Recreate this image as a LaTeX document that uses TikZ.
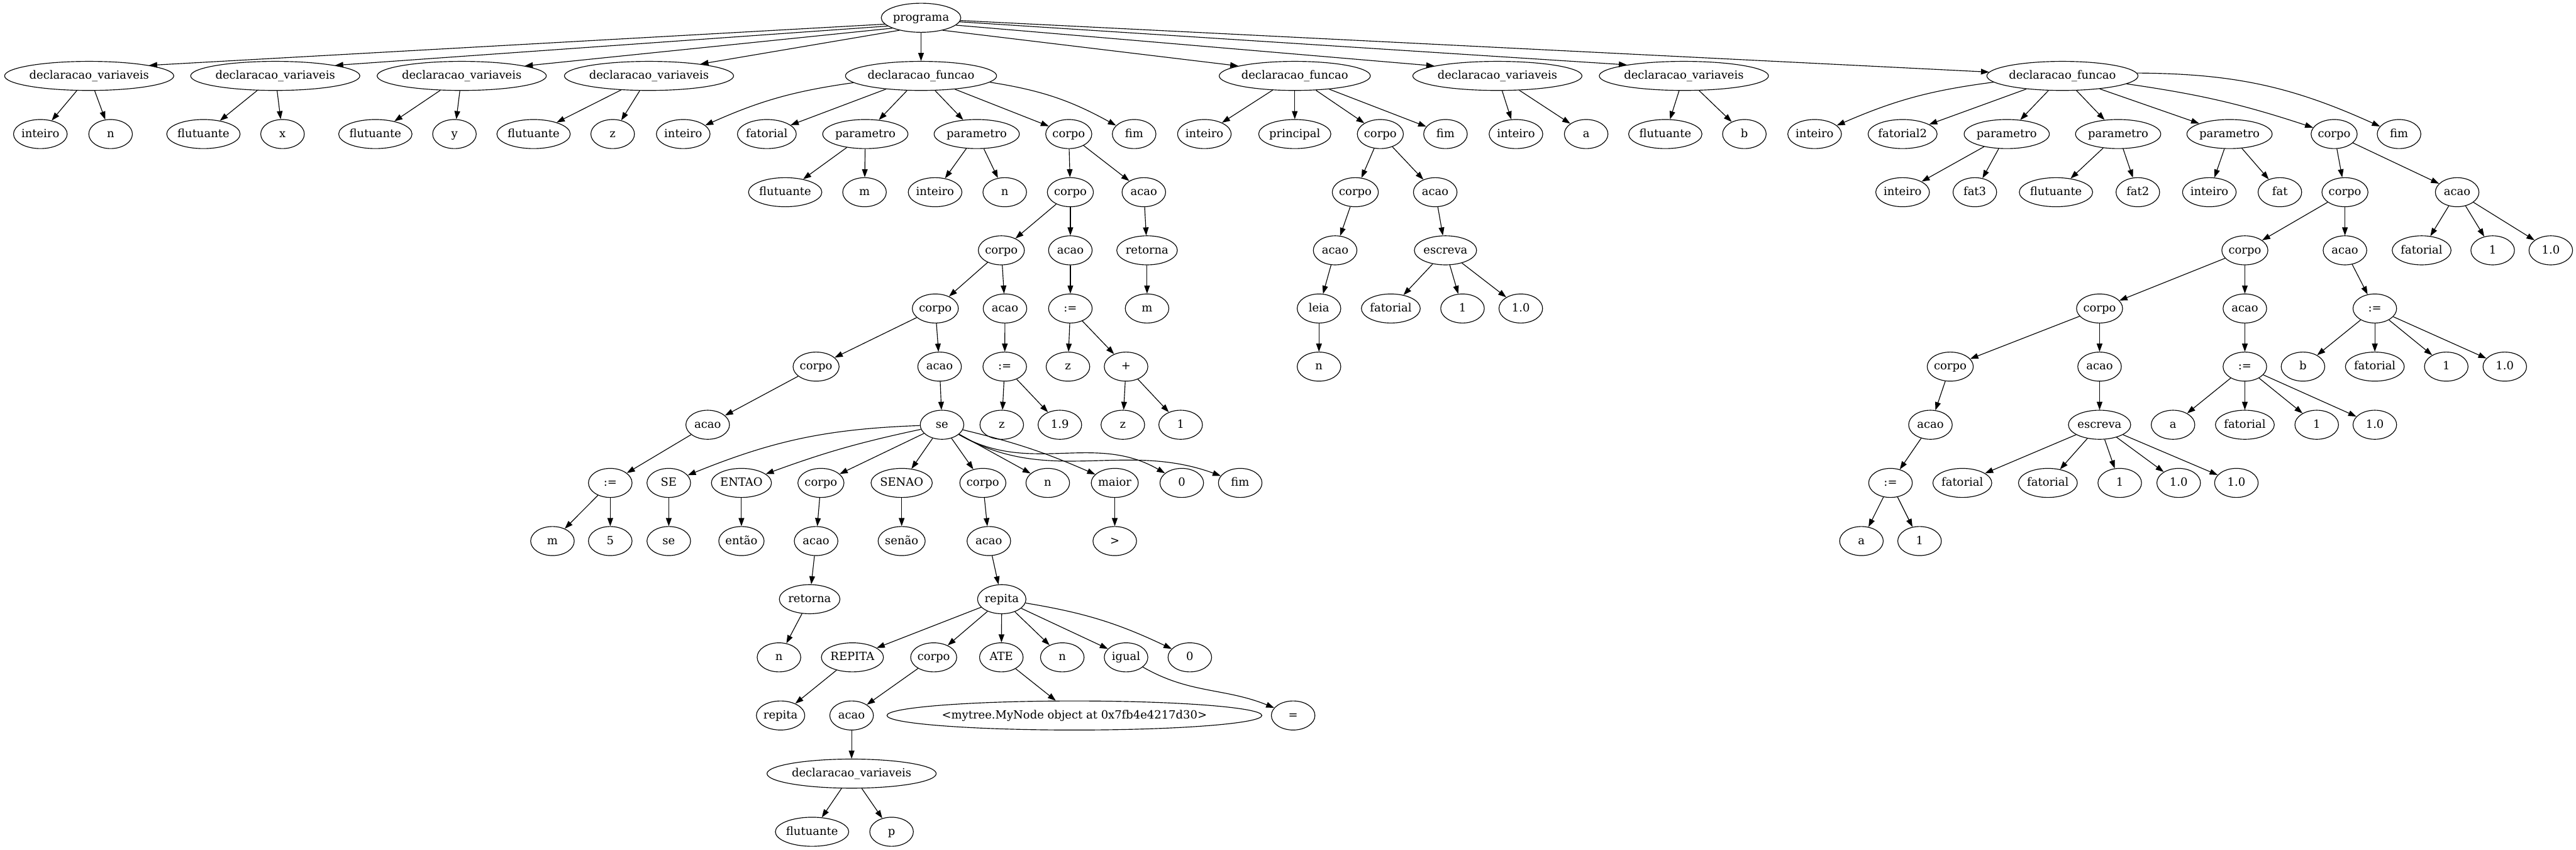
\documentclass[tikz,border=0pt]{standalone}
\usepackage{fontspec}
\setmainfont{DejaVu Serif}
\usetikzlibrary{arrows.meta,shapes.geometric}
\newlength\gvw
\newcommand\gvnode[4]{%
  \settowidth{\gvw}{\fontsize{14pt}{16pt}\selectfont #4}%
  \pgfmathsetlengthmacro\gvmw{max(54pt,1.31*(\gvw+16pt))}%
  \node[gvn,minimum width=\gvmw] (#1) at (#2,{-22-72*#3}) {#4};%
}
\tikzset{
  gvn/.style={ellipse, draw, line width=0.9pt, inner sep=0pt, minimum height=36pt,
    text height=11pt, text depth=3pt, font=\fontsize{14pt}{16pt}\selectfont},
  gve/.style={-{Triangle[length=10pt,width=7pt]}, line width=0.9pt},
}
\begin{document}
\begin{tikzpicture}[x=1pt,y=1pt]
\useasboundingbox (0,0) rectangle (3191.25,-1052.25);
% row 0
\gvnode{prog}{1141}{0}{programa}
% row 1
\gvnode{dv1}{110.5}{1}{declaracao\_variaveis}
\gvnode{dv2}{341}{1}{declaracao\_variaveis}
\gvnode{dv3}{572}{1}{declaracao\_variaveis}
\gvnode{dv4}{804}{1}{declaracao\_variaveis}
\gvnode{df1}{1141}{1}{declaracao\_funcao}
\gvnode{df2}{1604}{1}{declaracao\_funcao}
\gvnode{dv5}{1855}{1}{declaracao\_variaveis}
\gvnode{dv6}{2086}{1}{declaracao\_variaveis}
\gvnode{df3}{2555}{1}{declaracao\_funcao}
% row 2
\gvnode{dv1a}{50}{2}{inteiro}
\gvnode{dv1b}{137}{2}{n}
\gvnode{dv2a}{252}{2}{flutuante}
\gvnode{dv2b}{350}{2}{x}
\gvnode{dv3a}{465}{2}{flutuante}
\gvnode{dv3b}{563}{2}{y}
\gvnode{dv4a}{661}{2}{flutuante}
\gvnode{dv4b}{759}{2}{z}
\gvnode{f1a}{846.4}{2}{inteiro}
\gvnode{f1b}{950}{2}{fatorial}
\gvnode{f1p1}{1072}{2}{parametro}
\gvnode{f1p2}{1210}{2}{parametro}
\gvnode{f1c}{1324}{2}{corpo}
\gvnode{f1f}{1405}{2}{fim}
\gvnode{f2a}{1492}{2}{inteiro}
\gvnode{f2b}{1604}{2}{principal}
\gvnode{f2c}{1710}{2}{corpo}
\gvnode{f2f}{1790.7}{2}{fim}
\gvnode{dv5a}{1878}{2}{inteiro}
\gvnode{dv5b}{1965}{2}{a}
\gvnode{dv6a}{2063}{2}{flutuante}
\gvnode{dv6b}{2161}{2}{b}
\gvnode{f3a}{2248}{2}{inteiro}
\gvnode{f3b}{2357}{2}{fatorial2}
\gvnode{f3p1}{2486}{2}{parametro}
\gvnode{f3p2}{2624}{2}{parametro}
\gvnode{f3p3}{2762}{2}{parametro}
\gvnode{f3c}{2891.6}{2}{corpo}
\gvnode{f3f}{2972}{2}{fim}
% row 3
\gvnode{f1p1a}{972.7}{3}{flutuante}
\gvnode{f1p1b}{1071}{3}{m}
\gvnode{f1p2a}{1158.4}{3}{inteiro}
\gvnode{f1p2b}{1244.7}{3}{n}
\gvnode{f1c3}{1326}{3}{corpo}
\gvnode{f1a3}{1417}{3}{acao}
\gvnode{f2c3}{1679}{3}{corpo}
\gvnode{f2a3}{1778}{3}{acao}
\gvnode{f3p1a}{2357}{3}{inteiro}
\gvnode{f3p1b}{2446.5}{3}{fat3}
\gvnode{f3p2a}{2547}{3}{flutuante}
\gvnode{f3p2b}{2648.4}{3}{fat2}
\gvnode{f3p3a}{2737}{3}{inteiro}
\gvnode{f3p3b}{2824.4}{3}{fat}
\gvnode{f3c3}{2905}{3}{corpo}
\gvnode{f3a3}{3044}{3}{acao}
% row 4
\gvnode{f1c4}{1240.5}{4}{corpo}
\gvnode{f1a4}{1326}{4}{acao}
\gvnode{f1ret}{1421}{4}{retorna}
\gvnode{f2a4}{1654}{4}{acao}
\gvnode{f2esc}{1790.7}{4}{escreva}
\gvnode{f3c4}{2781}{4}{corpo}
\gvnode{f3a4}{2905}{4}{acao}
\gvnode{f3r4a}{3000}{4}{fatorial}
\gvnode{f3r4b}{3088}{4}{1}
\gvnode{f3r4c}{3160}{4}{1.0}
% row 5
\gvnode{f1c5}{1158.7}{5}{corpo}
\gvnode{f1a5}{1245}{5}{acao}
\gvnode{f1as5}{1326}{5}{:=}
\gvnode{f1m5}{1421}{5}{m}
\gvnode{f2leia}{1634}{5}{leia}
\gvnode{f2e1}{1723}{5}{fatorial}
\gvnode{f2e2}{1811.8}{5}{1}
\gvnode{f2e3}{1884}{5}{1.0}
\gvnode{f3c5}{2601}{5}{corpo}
\gvnode{f3a5}{2781}{5}{acao}
\gvnode{f3as5}{2942}{5}{:=}
% row 6
\gvnode{f1c6}{1011}{6}{corpo}
\gvnode{f1a6}{1164}{6}{acao}
\gvnode{f1as6}{1244.7}{6}{:=}
\gvnode{f1z6}{1323}{6}{z}
\gvnode{f1plus}{1395}{6}{+}
\gvnode{f2n6}{1634}{6}{n}
\gvnode{f3c6}{2416}{6}{corpo}
\gvnode{f3a6}{2601}{6}{acao}
\gvnode{f3as6}{2781}{6}{:=}
\gvnode{f3b6}{2853}{6}{b}
\gvnode{f3f6}{2942}{6}{fatorial}
\gvnode{f3o6}{3030.5}{6}{1}
\gvnode{f3p6}{3103}{6}{1.0}
% row 7
\gvnode{f1a7}{876.7}{7}{acao}
\gvnode{se}{1167}{7}{se}
\gvnode{f1z7}{1241}{7}{z}
\gvnode{f1n19}{1313}{7}{1.9}
\gvnode{f1z7b}{1391}{7}{z}
\gvnode{f1one7}{1462.6}{7}{1}
\gvnode{f3a7}{2391.5}{7}{acao}
\gvnode{f3esc}{2601}{7}{escreva}
\gvnode{f3a7a}{2692}{7}{a}
\gvnode{f3a7b}{2781}{7}{fatorial}
\gvnode{f3a7c}{2870}{7}{1}
\gvnode{f3a7d}{2942}{7}{1.0}
% row 8
\gvnode{as8}{756}{8}{:=}
\gvnode{SE}{828.5}{8}{SE}
\gvnode{ENTAO}{918.5}{8}{ENTAO}
\gvnode{sc1}{1017}{8}{corpo}
\gvnode{SENAO}{1117}{8}{SENAO}
\gvnode{sc2}{1217.6}{8}{corpo}
\gvnode{sn}{1298}{8}{n}
\gvnode{smaior}{1381}{8}{maior}
\gvnode{s0}{1464}{8}{0}
\gvnode{sfim}{1536.4}{8}{fim}
\gvnode{f3as8}{2342}{8}{:=}
\gvnode{f3e1}{2431}{8}{fatorial}
\gvnode{f3e2}{2537}{8}{fatorial}
\gvnode{f3e3}{2626}{8}{1}
\gvnode{f3e4}{2699}{8}{1.0}
\gvnode{f3e5}{2770.5}{8}{1.0}
% row 9
\gvnode{m9}{684.4}{9}{m}
\gvnode{five9}{756}{9}{5}
\gvnode{se9}{828.5}{9}{se}
\gvnode{entao9}{918.5}{9}{então}
\gvnode{sa9}{1011}{9}{acao}
\gvnode{senao9}{1117}{9}{senão}
\gvnode{sa9b}{1225}{9}{acao}
\gvnode{gt9}{1381}{9}{>}
\gvnode{f3a9}{2306}{9}{a}
\gvnode{f3one9}{2378}{9}{1}
% row 10
\gvnode{ret10}{1003}{10}{retorna}
\gvnode{rep10}{1241}{10}{repita}
% row 11
\gvnode{n11}{965}{11}{n}
\gvnode{REPITA}{1056}{11}{REPITA}
\gvnode{rc11}{1156.7}{11}{corpo}
\gvnode{ATE}{1240.5}{11}{ATE}
\gvnode{rn11}{1316}{11}{n}
\gvnode{igual}{1395}{11}{igual}
\gvnode{r0}{1474}{11}{0}
% row 12
\gvnode{rep12}{967}{12}{repita}
\gvnode{ra12}{1055}{12}{acao}
\gvnode{mytree}{1331}{12}{<mytree.MyNode object at 0x7fb4e4217d30>}
\gvnode{eq12}{1602}{12}{=}
% row 13
\gvnode{dv13}{1055}{13}{declaracao\_variaveis}
% row 14
\gvnode{fl14}{1006}{14}{flutuante}
\gvnode{p14}{1104.5}{14}{p}

% edges from the root
\draw[gve] (prog.190) -- (dv1.10);
\draw[gve] (prog.194) -- (dv2.10);
\draw[gve] (prog.200) -- (dv3.9);
\draw[gve] (prog.210) -- (dv4.13);
\draw[gve] (prog) -- (df1);
\draw[gve] (prog.-30) -- (df2.170);
\draw[gve] (prog.-12) -- (dv5.171);
\draw[gve] (prog.-6) -- (dv6.169);
\draw[gve] (prog.-4) -- (df3.177);
% variable declarations
\draw[gve] (dv1) -- (dv1a); \draw[gve] (dv1) -- (dv1b);
\draw[gve] (dv2) -- (dv2a); \draw[gve] (dv2) -- (dv2b);
\draw[gve] (dv3) -- (dv3a); \draw[gve] (dv3) -- (dv3b);
\draw[gve] (dv4) -- (dv4a); \draw[gve] (dv4) -- (dv4b);
% function 1
\draw[gve] (df1) to[bend right=8] (f1a);
\draw[gve] (df1) -- (f1b);
\draw[gve] (df1) -- (f1p1);
\draw[gve] (df1) -- (f1p2);
\draw[gve] (df1) -- (f1c);
\draw[gve] (df1) to[bend left=10] (f1f);
\draw[gve] (f1p1) -- (f1p1a); \draw[gve] (f1p1) -- (f1p1b);
\draw[gve] (f1p2) -- (f1p2a); \draw[gve] (f1p2) -- (f1p2b);
\draw[gve] (f1c) -- (f1c3); \draw[gve] (f1c) -- (f1a3);
\draw[gve] (f1c3) -- (f1c4); \draw[gve] (f1c3) -- (f1a4);
\draw[gve] (f1c4) -- (f1c5); \draw[gve] (f1c4) -- (f1a5);
\draw[gve] (f1c5) -- (f1c6); \draw[gve] (f1c5) -- (f1a6);
\draw[gve] (f1c6) -- (f1a7);
\draw[gve] (f1a7) -- (as8);
\draw[gve] (as8) -- (m9); \draw[gve] (as8) -- (five9);
\draw[gve] (f1a6) -- (se);
\draw[gve] (se) to[bend right=10] (SE);
\draw[gve] (se) to[bend right=4] (ENTAO);
\draw[gve] (se) -- (sc1);
\draw[gve] (se) -- (SENAO);
\draw[gve] (se) -- (sc2);
\draw[gve] (se) -- (sn);
\draw[gve] (se) to[bend left=5] (smaior);
\draw[gve] (se) to[out=-30,in=150] (s0);
\draw[gve] (se) to[out=-30,in=160] (sfim);
\draw[gve] (SE) -- (se9);
\draw[gve] (ENTAO) -- (entao9);
\draw[gve] (sc1) -- (sa9);
\draw[gve] (sa9) -- (ret10);
\draw[gve] (ret10) -- (n11);
\draw[gve] (SENAO) -- (senao9);
\draw[gve] (sc2) -- (sa9b);
\draw[gve] (sa9b) -- (rep10);
\draw[gve] (rep10) -- (REPITA);
\draw[gve] (rep10) -- (rc11);
\draw[gve] (rep10) -- (ATE);
\draw[gve] (rep10) -- (rn11);
\draw[gve] (rep10) -- (igual);
\draw[gve] (rep10) to[bend left=8] (r0);
\draw[gve] (REPITA) -- (rep12);
\draw[gve] (rc11) -- (ra12);
\draw[gve] (ra12) -- (dv13);
\draw[gve] (dv13) -- (fl14); \draw[gve] (dv13) -- (p14);
\draw[gve] (ATE) -- (mytree);
\draw[gve] (igual) to[out=-30,in=158] (eq12);
\draw[gve] (smaior) -- (gt9);
\draw[gve] (f1a5) -- (f1as6);
\draw[gve] (f1as6) -- (f1z7); \draw[gve] (f1as6) -- (f1n19);
\draw[gve] (f1a4) -- (f1as5);
\draw[gve] (f1as5) -- (f1z6); \draw[gve] (f1as5) -- (f1plus);
\draw[gve] (f1plus) -- (f1z7b); \draw[gve] (f1plus) -- (f1one7);
\draw[gve] (f1a3) -- (f1ret);
\draw[gve] (f1ret) -- (f1m5);
% function 2
\draw[gve] (df2) -- (f2a); \draw[gve] (df2) -- (f2b);
\draw[gve] (df2) -- (f2c); \draw[gve] (df2) -- (f2f);
\draw[gve] (f2c) -- (f2c3); \draw[gve] (f2c) -- (f2a3);
\draw[gve] (f2c3) -- (f2a4);
\draw[gve] (f2a4) -- (f2leia);
\draw[gve] (f2leia) -- (f2n6);
\draw[gve] (f2a3) -- (f2esc);
\draw[gve] (f2esc) -- (f2e1); \draw[gve] (f2esc) -- (f2e2); \draw[gve] (f2esc) -- (f2e3);
\draw[gve] (dv5) -- (dv5a); \draw[gve] (dv5) -- (dv5b);
\draw[gve] (dv6) -- (dv6a); \draw[gve] (dv6) -- (dv6b);
% function 3
\draw[gve] (df3) to[bend right=8] (f3a);
\draw[gve] (df3) -- (f3b);
\draw[gve] (df3) -- (f3p1);
\draw[gve] (df3) -- (f3p2);
\draw[gve] (df3) -- (f3p3);
\draw[gve] (df3) to[bend left=5] (f3c);
\draw[gve] (df3) to[bend left=12] (f3f);
\draw[gve] (f3p1) -- (f3p1a); \draw[gve] (f3p1) -- (f3p1b);
\draw[gve] (f3p2) -- (f3p2a); \draw[gve] (f3p2) -- (f3p2b);
\draw[gve] (f3p3) -- (f3p3a); \draw[gve] (f3p3) -- (f3p3b);
\draw[gve] (f3c) -- (f3c3); \draw[gve] (f3c) -- (f3a3);
\draw[gve] (f3c3) -- (f3c4); \draw[gve] (f3c3) -- (f3a4);
\draw[gve] (f3c4) -- (f3c5); \draw[gve] (f3c4) -- (f3a5);
\draw[gve] (f3c5) -- (f3c6); \draw[gve] (f3c5) -- (f3a6);
\draw[gve] (f3c6) -- (f3a7);
\draw[gve] (f3a7) -- (f3as8);
\draw[gve] (f3as8) -- (f3a9); \draw[gve] (f3as8) -- (f3one9);
\draw[gve] (f3a6) -- (f3esc);
\foreach \t in {f3e1,f3e2,f3e3,f3e4,f3e5} \draw[gve] (f3esc) -- (\t);
\draw[gve] (f3a5) -- (f3as6);
\foreach \t in {f3a7a,f3a7b,f3a7c,f3a7d} \draw[gve] (f3as6) -- (\t);
\draw[gve] (f3a4) -- (f3as5);
\foreach \t in {f3b6,f3f6,f3o6,f3p6} \draw[gve] (f3as5) -- (\t);
\foreach \t in {f3r4a,f3r4b,f3r4c} \draw[gve] (f3a3) -- (\t);
\end{tikzpicture}
\end{document}
